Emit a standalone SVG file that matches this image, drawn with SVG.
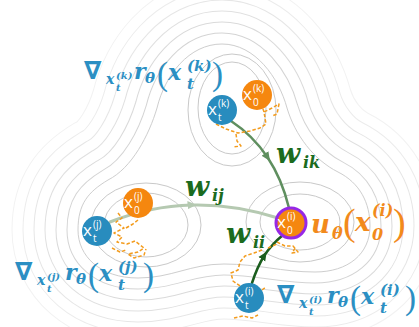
<svg xmlns="http://www.w3.org/2000/svg" xmlns:xlink="http://www.w3.org/1999/xlink" width="419" height="327" viewBox="0 0 419 327">
<style>
.nd text{font-family:"Open Sans","DejaVu Sans",sans-serif;fill:#fff}
.nx{font-size:17px}
.ns{font-size:10px}
.m{font-family:"DejaVu Serif",serif;font-style:italic;font-weight:bold}
.p{font-family:"Liberation Serif",serif;font-weight:normal;font-style:normal}
.nab{font-family:"DejaVu Sans",sans-serif;font-weight:bold}
.blue{fill:#2b8fc3}
.org{fill:#f28a1c}
.grn{fill:#1b6b1e}
.walk{fill:none;stroke:#f39c1e;stroke-width:1.5;stroke-dasharray:3.5 2;stroke-linejoin:round}
.ring{fill:none;stroke-linejoin:round}
.wh{fill:#fff;stroke:#fff;stroke-linejoin:round}
.loop{fill:none;stroke:#c9c9c9;stroke-width:1}
</style>
<defs>
<path id="B" d="M222 44C255 44 279 78 287 108C295 135 314 160 338 172C360 183 370 203 370 226C370 254 348 272 315 272C282 272 258 264 224 264C190 264 172 278 138 278C100 278 78 256 78 230C78 204 88 192 108 180C132 168 149 135 157 108C165 75 189 44 222 44Z"/>
<marker id="aK" viewBox="0 0 10 10" refX="5" refY="5" markerWidth="9" markerHeight="9" markerUnits="userSpaceOnUse" orient="auto"><path d="M0,0.5L10,5L0,9.5z" fill="#5f8f5f"/></marker>
<marker id="aJ" viewBox="0 0 10 10" refX="5" refY="5" markerWidth="9" markerHeight="9" markerUnits="userSpaceOnUse" orient="auto"><path d="M0,0.5L10,5L0,9.5z" fill="#b5c9b1"/></marker>
<marker id="aI" viewBox="0 0 10 10" refX="5" refY="5" markerWidth="9" markerHeight="9" markerUnits="userSpaceOnUse" orient="auto"><path d="M0,0.5L10,5L0,9.5z" fill="#1b5e1e"/></marker>
</defs>
<rect width="419" height="327" fill="#fff"/>
<g id="contours">
<use xlink:href="#B" class="ring" stroke="#f2f2f2" stroke-width="133"/>
<use xlink:href="#B" class="wh" stroke-width="131"/>
<use xlink:href="#B" class="ring" stroke="#ececec" stroke-width="111"/>
<use xlink:href="#B" class="wh" stroke-width="109"/>
<use xlink:href="#B" class="ring" stroke="#e6e6e6" stroke-width="89"/>
<use xlink:href="#B" class="wh" stroke-width="87"/>
<use xlink:href="#B" class="ring" stroke="#e0e0e0" stroke-width="67"/>
<use xlink:href="#B" class="wh" stroke-width="65"/>
<use xlink:href="#B" class="ring" stroke="#dadada" stroke-width="45"/>
<use xlink:href="#B" class="wh" stroke-width="43"/>
<use xlink:href="#B" class="ring" stroke="#d4d4d4" stroke-width="23"/>
<use xlink:href="#B" class="wh" stroke-width="21"/>
<use xlink:href="#B" fill="#fff" stroke="#cecece" stroke-width="1"/>
<ellipse class="loop" cx="232" cy="110" rx="44" ry="56"/>
<ellipse class="loop" cx="232" cy="108" rx="34" ry="46"/>
<ellipse class="loop" cx="146" cy="225" rx="55" ry="42"/>
<ellipse class="loop" cx="146" cy="225" rx="42" ry="32"/>
<ellipse class="loop" cx="300" cy="222" rx="54" ry="40"/>
<ellipse class="loop" cx="300" cy="222" rx="40" ry="28"/>
</g>
<g id="connectors" fill="none" stroke-linecap="round">
<path id="e-ik" d="M231,121Q253,135.5 267.5,157.25Q282,179 289,208" stroke="#5f8f5f" stroke-width="2.5" marker-mid="url(#aK)"/>
<path id="e-ij" d="M110,222Q150,206 192,205Q234,204 278,218" stroke="#b5c9b1" stroke-width="3" marker-mid="url(#aJ)"/>
<path id="e-ii" d="M252,283Q257,267.5 264.25,255.5Q272.5,243.5 283,235" stroke="#1b5e1e" stroke-width="2.5" marker-mid="url(#aI)"/>
</g>
<g id="walks">
<path class="walk" d="M216,124L226,129L238,133L250,131L260,128L266,124L264,112L272,108L279,104L277,114L272,116M236,134L237,141L241,146L233,147M264,112L262,106"/>
<path class="walk" d="M118,213L122,218L116,222L124,228L114,233L122,237L117,242L127,244L135,241L144,248L138,252L128,254L134,258L144,255L146,249M126,228L133,224L138,220M112,248L120,252L126,250"/>
<path class="walk" d="M277,242L285,246L293,246L298,252L292,253L296,247M262,250L254,253L245,256L240,262L238,270L231,273L233,281L240,286M268,248L277,244M234,318L243,316L252,318L258,315M262,290L266,287"/>
</g>
<g id="node-xtk" class="nd"><circle cx="222" cy="110" r="15" fill="#288cbe"/><text class="nx" x="208" y="115">x</text><text class="ns" x="218" y="107">(k)</text><text class="ns" x="218" y="121">t</text></g>
<g id="node-x0k" class="nd"><circle cx="257" cy="95" r="15" fill="#f5870f"/><text class="nx" x="243" y="100">x</text><text class="ns" x="253" y="92">(k)</text><text class="ns" x="253" y="106">0</text></g>
<g id="node-x0j" class="nd"><circle cx="138" cy="203" r="15" fill="#f5870f"/><text class="nx" x="124" y="208">x</text><text class="ns" x="134" y="200">(j)</text><text class="ns" x="134" y="214">0</text></g>
<g id="node-xtj" class="nd"><circle cx="97" cy="231" r="15" fill="#288cbe"/><text class="nx" x="83" y="236">x</text><text class="ns" x="93" y="228">(j)</text><text class="ns" x="93" y="242">t</text></g>
<g id="node-x0i" class="nd"><circle cx="291" cy="223" r="15" fill="#f5870f" stroke="#9628e6" stroke-width="3"/><text class="nx" x="277" y="228">x</text><text class="ns" x="287" y="220">(i)</text><text class="ns" x="287" y="234">0</text></g>
<g id="node-xti" class="nd"><circle cx="249" cy="298" r="15" fill="#288cbe"/><text class="nx" x="235" y="303">x</text><text class="ns" x="245" y="295">(i)</text><text class="ns" x="245" y="309">t</text></g>
<g id="label-wik" class="grn"><text class="m" x="276" y="163" font-size="28">w</text><text class="m" x="303" y="168" font-size="16">ik</text></g>
<g id="label-wij" class="grn"><text class="m" x="185" y="196" font-size="28">w</text><text class="m" x="212" y="201" font-size="16">ij</text></g>
<g id="label-wii" class="grn"><text class="m" x="226" y="243" font-size="28">w</text><text class="m" x="253" y="248" font-size="16">ii</text></g>
<g id="label-u" class="org"><text class="m" x="311" y="233" font-size="26">u</text><text class="m" x="332" y="239" font-size="16">θ</text><text class="p" x="343" y="235" font-size="38">(</text><text class="m" x="355" y="231" font-size="26">x</text><text class="m" x="372" y="216" font-size="16">(i)</text><text class="m" x="372" y="240" font-size="16">0</text><text class="p" x="393" y="235" font-size="38">)</text></g>
<g id="label-gk" class="blue" transform="translate(84,79)"><text class="nab" x="0" y="0" font-size="25">∇</text><text class="m" x="22" y="5" font-size="14">x</text><text class="m" x="32" y="0" font-size="10">(k)</text><text class="m" x="32" y="12" font-size="10">t</text><text class="m" x="50" y="0" font-size="22">r</text><text class="m" x="61" y="4" font-size="15">θ</text><text class="p" x="73" y="6" font-size="33">(</text><text class="m" x="84" y="1" font-size="22">x</text><text class="m" x="103" y="-8" font-size="15">(k)</text><text class="m" x="103" y="10" font-size="15">t</text><text class="p" x="128" y="6" font-size="33">)</text></g>
<g id="label-gj" class="blue" transform="translate(15,280)"><text class="nab" x="0" y="0" font-size="25">∇</text><text class="m" x="22" y="5" font-size="14">x</text><text class="m" x="32" y="0" font-size="10">(j)</text><text class="m" x="32" y="12" font-size="10">t</text><text class="m" x="50" y="0" font-size="22">r</text><text class="m" x="61" y="4" font-size="15">θ</text><text class="p" x="73" y="6" font-size="33">(</text><text class="m" x="84" y="1" font-size="22">x</text><text class="m" x="103" y="-8" font-size="15">(j)</text><text class="m" x="103" y="10" font-size="15">t</text><text class="p" x="128" y="6" font-size="33">)</text></g>
<g id="label-gi" class="blue" transform="translate(277,303)"><text class="nab" x="0" y="0" font-size="25">∇</text><text class="m" x="22" y="5" font-size="14">x</text><text class="m" x="32" y="0" font-size="10">(i)</text><text class="m" x="32" y="12" font-size="10">t</text><text class="m" x="50" y="0" font-size="22">r</text><text class="m" x="61" y="4" font-size="15">θ</text><text class="p" x="73" y="6" font-size="33">(</text><text class="m" x="84" y="1" font-size="22">x</text><text class="m" x="103" y="-8" font-size="15">(i)</text><text class="m" x="103" y="10" font-size="15">t</text><text class="p" x="128" y="6" font-size="33">)</text></g>
</svg>
